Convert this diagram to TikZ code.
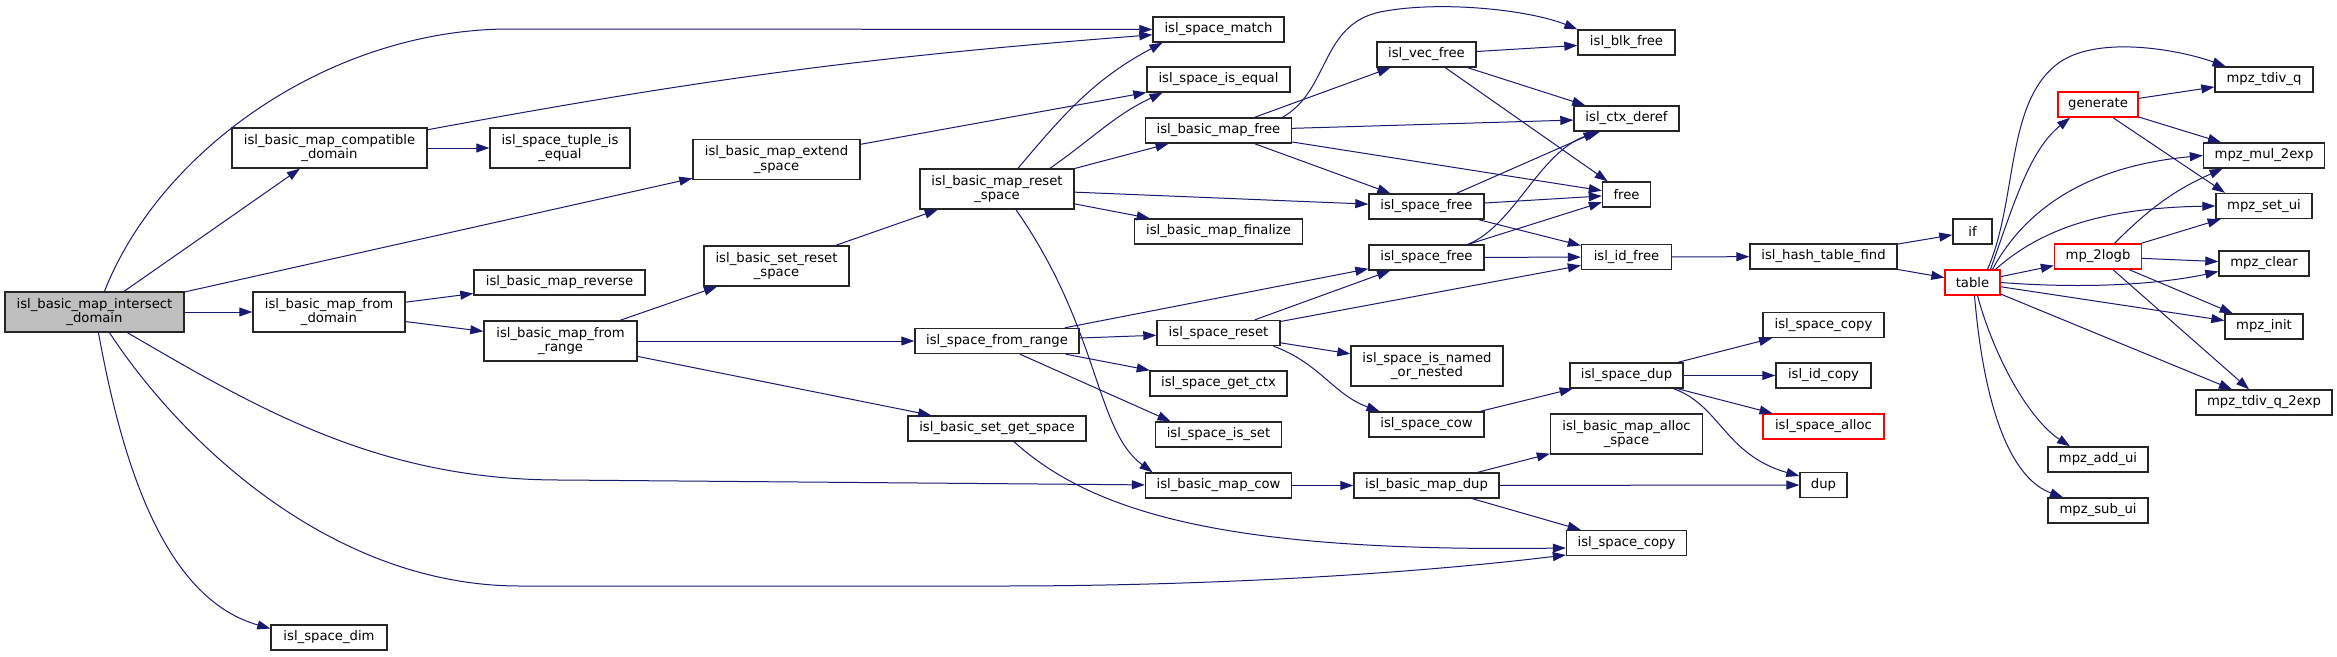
\documentclass[tikz,border=0pt]{standalone}
\usepackage{fontspec}
\newfontfamily\graphfont{DejaVu Sans}
\usetikzlibrary{arrows.meta}
\definecolor{calledge}{HTML}{191970}
\definecolor{rootfill}{HTML}{BFBFBF}
\tikzset{
  % Base styles
  graph base/.style={
    x=1pt, y=-1pt,
    >={Triangle[length=13pt,width=9pt]},
  },
  % Function nodes
  func node/.style={rectangle, draw=black!85, line width=1.4pt, fill=white, inner sep=0pt,
    minimum height=25pt, align=center, font=\graphfont\fontsize{13.2}{14.5}\selectfont},
  two line/.style={minimum height=40pt},
  root node/.style={func node, fill=rootfill},
  trunc node/.style={func node, draw=red},
  % Calls
  call/.style={->, draw=calledge, line width=1pt},
}

\begin{document}
\begin{tikzpicture}[graph base]
\useasboundingbox (0,0) rectangle (2337,656);

% Root
\node[root node, two line, minimum width=179pt] (main) at (94.5,312) {isl\_basic\_map\_intersect\\\_domain};

% First layers
\node[func node, two line, minimum width=195pt] (compdom) at (329.5,148) {isl\_basic\_map\_compatible\\\_domain};
\node[func node, two line, minimum width=152pt] (fromdom) at (329,312) {isl\_basic\_map\_from\\\_domain};
\node[func node, minimum width=116pt] (dim) at (329,637.5) {isl\_space\_dim};
\node[func node, two line, minimum width=140pt] (tupleeq) at (560,148) {isl\_space\_tuple\_is\\\_equal};
\node[func node, minimum width=171pt] (reverse) at (559.5,282.5) {isl\_basic\_map\_reverse};
\node[func node, two line, minimum width=153pt] (fromrange) at (560.5,341) {isl\_basic\_map\_from\\\_range};
\node[func node, two line, minimum width=167pt] (extend) at (776.5,159.5) {isl\_basic\_map\_extend\\\_space};
\node[func node, two line, minimum width=145pt] (bsetreset) at (776.5,266) {isl\_basic\_set\_reset\\\_space};
\node[func node, two line, minimum width=154pt] (mapreset) at (997,189) {isl\_basic\_map\_reset\\\_space};
\node[func node, minimum width=164pt] (fromrangesp) at (997,341) {isl\_space\_from\_range};
\node[func node, minimum width=178pt] (getspace) at (997,428.5) {isl\_basic\_set\_get\_space};

% Middle column
\node[func node, minimum width=131pt] (match) at (1218.5,29.5) {isl\_space\_match};
\node[func node, minimum width=143pt] (isequal) at (1218.5,79.5) {isl\_space\_is\_equal};
\node[func node, minimum width=146pt] (mapfree) at (1218.5,130.5) {isl\_basic\_map\_free};
\node[func node, minimum width=168pt] (finalize) at (1218.5,231.5) {isl\_basic\_map\_finalize};
\node[func node, minimum width=123pt] (spreset) at (1218.5,333) {isl\_space\_reset};
\node[func node, minimum width=137pt] (getctx) at (1218.5,383.5) {isl\_space\_get\_ctx};
\node[func node, minimum width=126pt] (isset) at (1218.5,434.5) {isl\_space\_is\_set};
\node[func node, minimum width=146pt] (mapcow) at (1218.5,485.5) {isl\_basic\_map\_cow};

\node[func node, minimum width=99pt] (vecfree) at (1426.5,54.5) {isl\_vec\_free};
\node[func node, minimum width=115pt] (spfreeA) at (1426.5,206.5) {isl\_space\_free};
\node[func node, minimum width=115pt] (spfreeB) at (1426.5,257.5) {isl\_space\_free};
\node[func node, two line, minimum width=152pt] (named) at (1427,366) {isl\_space\_is\_named\\\_or\_nested};
\node[func node, minimum width=115pt] (spcow) at (1426.5,424.5) {isl\_space\_cow};
\node[func node, minimum width=145pt] (mapdup) at (1426.5,485.5) {isl\_basic\_map\_dup};

\node[func node, minimum width=97pt] (blkfree) at (1626.5,42.5) {isl\_blk\_free};
\node[func node, minimum width=105pt] (ctxderef) at (1626.5,118.5) {isl\_ctx\_deref};
\node[func node, minimum width=48pt] (free) at (1626.5,194.5) {free};
\node[func node, minimum width=90pt] (idfree) at (1626.5,257) {isl\_id\_free};
\node[func node, minimum width=113pt] (spdup) at (1626.5,375.5) {isl\_space\_dup};
\node[func node, two line, minimum width=152pt] (allocsp) at (1626.5,434) {isl\_basic\_map\_alloc\\\_space};
\node[func node, minimum width=120pt] (spcopyB) at (1626.5,543) {isl\_space\_copy};

\node[func node, minimum width=147pt] (hash) at (1823.5,256.5) {isl\_hash\_table\_find};
\node[func node, minimum width=121pt] (spcopyA) at (1823.5,325) {isl\_space\_copy};
\node[func node, minimum width=95pt] (idcopy) at (1823.5,375.5) {isl\_id\_copy};
\node[trunc node, minimum width=121pt] (spalloc) at (1823.5,426.5) {isl\_space\_alloc};
\node[func node, minimum width=47pt] (dup) at (1823.5,485) {dup};

% Right part
\node[func node, minimum width=39pt] (ifnode) at (1972.5,231.5) {if};
\node[trunc node, minimum width=55pt] (table) at (1972.5,282.5) {table};
\node[trunc node, minimum width=80pt] (generate) at (2098,104.5) {generate};
\node[trunc node, minimum width=87pt] (mp2logb) at (2098,256.5) {mp\_2logb};
\node[func node, minimum width=100pt] (addui) at (2098,459.5) {mpz\_add\_ui};
\node[func node, minimum width=100pt] (subui) at (2098,510.5) {mpz\_sub\_ui};
\node[func node, minimum width=98pt] (tdivq) at (2264,79.5) {mpz\_tdiv\_q};
\node[func node, minimum width=121pt] (mul2exp) at (2264,155.5) {mpz\_mul\_2exp};
\node[func node, minimum width=96pt] (setui) at (2264,206) {mpz\_set\_ui};
\node[func node, minimum width=90pt] (clear) at (2264,263.5) {mpz\_clear};
\node[func node, minimum width=78pt] (init) at (2264,326.5) {mpz\_init};
\node[func node, minimum width=136pt] (tdivq2exp) at (2264,402.5) {mpz\_tdiv\_q\_2exp};

% Calls from the root
\draw[call] ([xshift=10pt]main.north) .. controls (160,150) and (330,29) .. (510,29) -- (match);
\draw[call] (main) -- (compdom);
\draw[call] (main) -- (extend);
\draw[call] (main) -- (fromdom);
\draw[call] ([xshift=33pt]main.south) .. controls (260,410) and (380,480) .. (560,480) -- (mapcow);
\draw[call] ([xshift=15pt]main.south) .. controls (180,440) and (330,586) .. (520,586) -- (1000,586) .. controls (1200,586) and (1400,575) .. ([yshift=-12pt]spcopyB.west);
\draw[call] ([xshift=4pt]main.south) .. controls (125,480) and (170,600) .. ([yshift=9pt]dim.west);

% Compatible domain, extend, from domain
\draw[call] (compdom) -- (tupleeq);
\draw[call] (compdom) to[bend left=3] (match);
\draw[call] (extend) -- (isequal);
\draw[call] (fromdom) -- (reverse);
\draw[call] (fromdom) -- (fromrange);
\draw[call] (fromrange) -- (bsetreset);
\draw[call] (fromrange) -- (fromrangesp);
\draw[call] (fromrange) -- (getspace);
\draw[call] (bsetreset) -- (mapreset);

% Reset space
\draw[call] ([xshift=21pt]mapreset.north) to[out=50,in=208] ([xshift=-56pt]match.south);
\draw[call] ([xshift=53pt]mapreset.north) to[out=35,in=205] ([xshift=-56pt]isequal.south);
\draw[call] (mapreset) -- (mapfree);
\draw[call] (mapreset) -- (spfreeA);
\draw[call] (mapreset) -- (finalize);
\draw[call] ([xshift=19pt]mapreset.south) .. controls (1100,330) and (1095,430) .. ([xshift=-66pt]mapcow.north);

% Freeing
\draw[call] ([xshift=64pt]mapfree.north) .. controls (1330,90) and (1320,25) .. (1380,12) .. controls (1440,0) and (1530,10) .. (blkfree.north west);
\draw[call] (mapfree) -- (vecfree);
\draw[call] (mapfree) -- (ctxderef);
\draw[call] (mapfree) -- (free);
\draw[call] (mapfree) -- (spfreeA);
\draw[call] (vecfree) -- (blkfree);
\draw[call] (vecfree) -- (ctxderef);
\draw[call] (vecfree) -- (free);
\draw[call] (spfreeA) -- (ctxderef);
\draw[call] (spfreeA) -- (free);
\draw[call] (spfreeA) -- (idfree);
\draw[call] ([xshift=41.5pt]spfreeB.north) .. controls (1515,225) and (1540,150) .. ([xshift=-26.5pt]ctxderef.south);
\draw[call] (spfreeB) -- (free);
\draw[call] (spfreeB) -- (idfree);

% Space from range
\draw[call] (fromrangesp) -- (spfreeB);
\draw[call] (fromrangesp) -- (spreset);
\draw[call] (fromrangesp) -- (getctx);
\draw[call] ([xshift=23pt]fromrangesp.south) -- ([xshift=-48pt]isset.north);
\draw[call] (spreset) -- (spfreeB);
\draw[call] (spreset) -- (idfree);
\draw[call] (spreset) -- (named);
\draw[call] ([xshift=55pt]spreset.south) to[out=-20,in=160] ([xshift=-47pt]spcow.north);
\draw[call] (spcow) -- (spdup);

% Space dup
\draw[call] (spdup) -- (spcopyA);
\draw[call] (spdup) -- (idcopy);
\draw[call] (spdup) -- (spalloc);
\draw[call] ([xshift=47pt]spdup.south) .. controls (1720,405) and (1725,455) .. ([yshift=9pt]dup.west);
\draw[call] ([xshift=17pt]getspace.south) .. controls (1100,520) and (1250,552) .. ([yshift=-5pt]spcopyB.west);

% Map cow and dup
\draw[call] (mapcow) -- (mapdup);
\draw[call] (mapdup) -- (allocsp);
\draw[call] (mapdup) -- (dup);
\draw[call] (mapdup) -- (spcopyB);

% Hash table
\draw[call] (idfree) -- (hash);
\draw[call] (hash) -- (ifnode);
\draw[call] (hash) -- (table);

% Table
\draw[call] ([xshift=15pt]table.north) .. controls (2018,200) and (2005,100) .. (2060,62) .. controls (2100,35) and (2180,50) .. ([xshift=-38.5pt]tdivq.north);
\draw[call] ([xshift=18pt]table.north) .. controls (2015,200) and (2030,150) .. ([xshift=-28pt]generate.south);
\draw[call] ([xshift=20pt]table.north) .. controls (2030,200) and (2100,165) .. (mul2exp.west);
\draw[call] ([xshift=23pt]table.north) .. controls (2040,230) and (2100,208) .. (setui.west);
\draw[call] (table) -- (mp2logb);
\draw[call] (table.east) .. controls (2100,290) and (2170,282) .. ([yshift=-8pt]clear.west);
\draw[call] (table) -- (init);
\draw[call] (table) -- (tdivq2exp);
\draw[call] ([xshift=5pt]table.south) .. controls (1995,360) and (2030,420) .. ([xshift=-28pt]addui.north);
\draw[call] ([xshift=2pt]table.south) .. controls (1985,420) and (2015,480) .. ([xshift=-35pt]subui.north);

% Generate and mp_2logb
\draw[call] (generate) -- (tdivq);
\draw[call] (generate) -- (mul2exp);
\draw[call] ([xshift=15pt]generate.south) -- ([xshift=-39pt]setui.north);
\draw[call] ([xshift=16.5pt]mp2logb.north) to[out=45,in=204] ([xshift=-41.5pt]mul2exp.south);
\draw[call] (mp2logb) -- (setui);
\draw[call] (mp2logb) -- (clear);
\draw[call] (mp2logb) -- (init);
\draw[call] (mp2logb) -- (tdivq2exp);
\end{tikzpicture}
\end{document}
